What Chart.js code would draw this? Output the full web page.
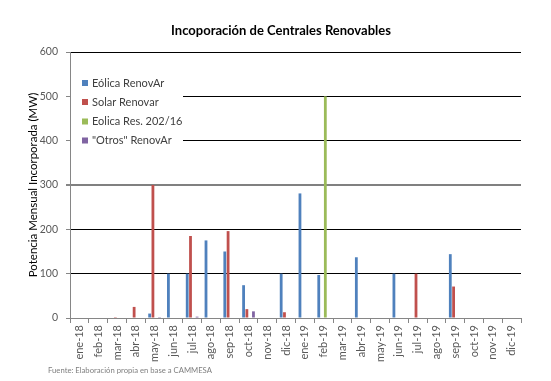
<!DOCTYPE html>
<html>
<head>
<meta charset="utf-8">
<script src="https://cdn.jsdelivr.net/npm/chart.js@4.4.0/dist/chart.umd.min.js"></script>
<style>
  html, body { margin: 0; padding: 0; background: #fff; }
  #wrap { width: 551px; height: 381px; position: relative; }
</style>
</head>
<body>
<div id="wrap"><canvas id="c" width="551" height="381"></canvas></div>
<script>
const chartTitle = "Incoporación de Centrales Renovables";
const yAxisTitle = "Potencia Mensual Incorporada (MW)";
const sourceNote = "Fuente: Elaboración propia en base a CAMMESA";
const categories = ["ene-18","feb-18","mar-18","abr-18","may-18","jun-18","jul-18","ago-18","sep-18","oct-18","nov-18","dic-18",
                    "ene-19","feb-19","mar-19","abr-19","may-19","jun-19","jul-19","ago-19","sep-19","oct-19","nov-19","dic-19"];
const seriesNames = ["Eólica RenovAr", "Solar Renovar", "Eolica Res. 202/16", "\"Otros\" RenovAr"];
const eolicaRenovAr = [0,0,0,0,10,100,100,175,150,74,0,100,281,97,0,137,0,100,0,0,144,0,0,0];
const solarRenovar  = [0,0,2,25,300,0,185,0,196,20,0,13,0,0,0,0,0,0,100,0,71,0,0,0];
const eolicaRes     = [0,0,0,0,0,0,0,0,0,0,0,0,0,500,0,0,0,0,0,0,0,0,0,0];
const otrosRenovAr  = [0,0,0,0,2,0,3,0,0,15,0,0,0,0,0,0,0,0,0,0,0,0,0,0];
const yTicks = [0,100,200,300,400,500,600];

const colors = ["#4F81BD", "#C0504D", "#9BBB59", "#8064A2"];
const FONT = "Lato, 'Liberation Sans', sans-serif";

const extras = {
  id: 'extras',
  afterDatasetsDraw(chart) {
    const ctx = chart.ctx;
    const ca = chart.chartArea;
    ctx.save();
    ctx.fillStyle = '#ffffff';
    ctx.fillRect(ca.left + 1, 70, 112, 80);
    ctx.font = "11px " + FONT;
    ctx.textBaseline = 'middle';
    ctx.textAlign = 'left';
    const ys = [83, 102, 121.5, 140.5];
    chart.data.datasets.forEach((ds, i) => {
      ctx.fillStyle = ds.backgroundColor;
      ctx.fillRect(ca.left + 12, ys[i] - 3, 6, 6);
      ctx.fillStyle = '#404040';
      ctx.fillText(ds.label, ca.left + 22, ys[i]);
    });
    ctx.font = "bold 13px " + FONT;
    ctx.fillStyle = '#000';
    ctx.textAlign = 'center';
    ctx.fillText(chartTitle, 281, 31);
    ctx.font = "7.7px " + FONT;
    ctx.fillStyle = '#7f7f7f';
    ctx.textAlign = 'left';
    ctx.fillText(sourceNote, 48, 371);
    ctx.restore();
  }
};

new Chart(document.getElementById('c'), {
  type: 'bar',
  data: {
    labels: categories,
    datasets: [
      { label: seriesNames[0], data: eolicaRenovAr, backgroundColor: colors[0] },
      { label: seriesNames[1], data: solarRenovar, backgroundColor: colors[1] },
      { label: seriesNames[2], data: eolicaRes, backgroundColor: colors[2] },
      { label: seriesNames[3], data: otrosRenovAr, backgroundColor: colors[3] }
    ]
  },
  options: {
    responsive: false,
    animation: false,
    devicePixelRatio: 1,
    layout: { padding: { top: 52, right: 30, bottom: 0, left: 26 } },
    datasets: { bar: { categoryPercentage: 0.70, barPercentage: 0.85, borderWidth: 0 } },
    plugins: { legend: { display: false }, title: { display: false }, tooltip: { enabled: false } },
    scales: {
      x: {
        grid: { offset: true, drawOnChartArea: false, drawTicks: true, tickLength: 5, color: '#868686' },
        border: { color: '#868686', width: 1 },
        ticks: { maxRotation: 90, minRotation: 90, autoSkip: false, padding: 2,
                 color: '#595959', font: { family: FONT, size: 11 } },
        afterFit(s) { s.height = 63; }
      },
      y: {
        min: 0, max: 600,
        afterBuildTicks(s) { s.ticks = yTicks.map(v => ({ value: v })); },
        grid: {
          color: c => c.tick.value === 300 ? '#808080' : (c.tick.value === 0 ? '#868686' : '#000000'),
          lineWidth: c => c.tick.value === 300 ? 2 : 1,
          tickColor: '#868686', tickLength: 4
        },
        border: { color: '#868686', width: 1 },
        ticks: { padding: 8, color: '#595959', font: { family: FONT, size: 10.5 } },
        title: { display: true, text: yAxisTitle, color: '#000', font: { family: FONT, size: 11.5, weight: 'normal' }, padding: { top: 0, bottom: 4 } },
        afterFit(s) { s.width = 44; }
      }
    }
  },
  plugins: [extras]
});
</script>
</body>
</html>
